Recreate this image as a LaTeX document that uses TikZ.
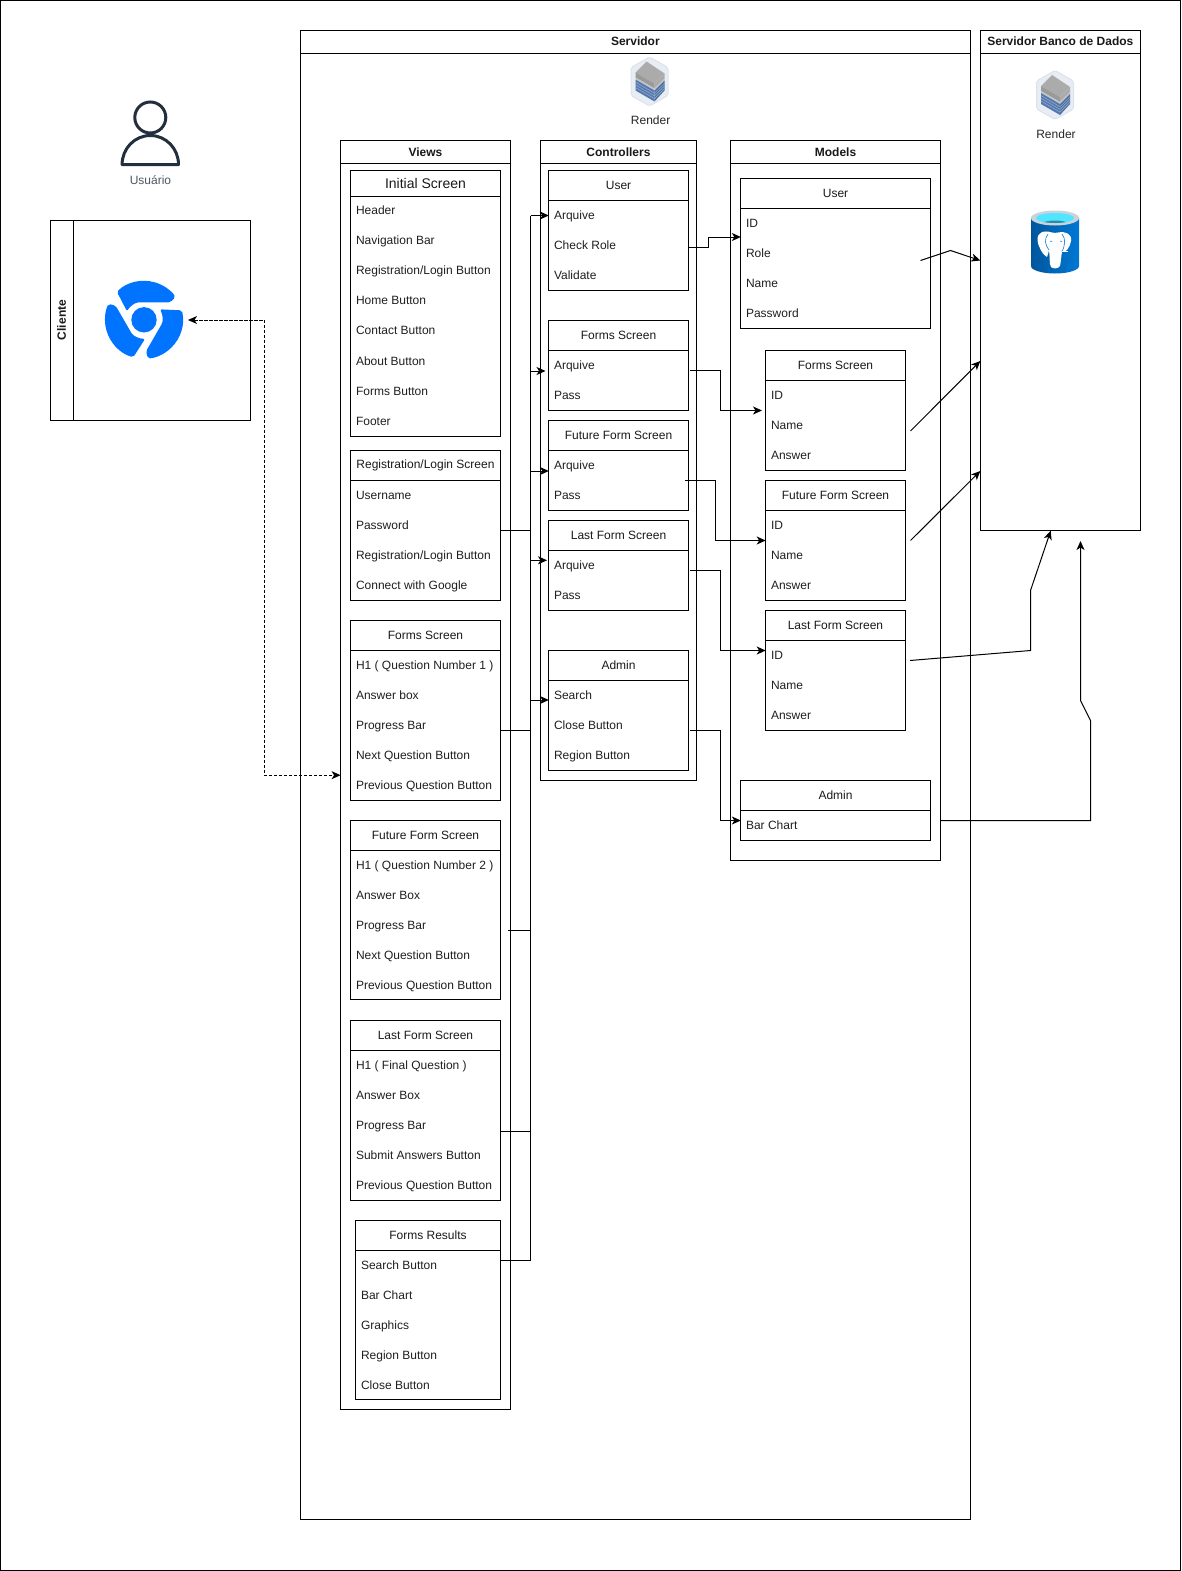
\documentclass[tikz,border=0pt]{standalone}
\usepackage{fontspec}
\setmainfont{Liberation Sans}
\usetikzlibrary{arrows.meta}
\definecolor{chromeblue}{HTML}{0073FF}
\definecolor{awsdark}{HTML}{232F3E}
\definecolor{awsgray}{HTML}{4D5663}
\definecolor{hexfill}{HTML}{E8EDF4}
\definecolor{hexline}{HTML}{DCE2EC}
\definecolor{srvA}{HTML}{5579AE}
\definecolor{srvB}{HTML}{8FA8CC}
\definecolor{srvC}{HTML}{9A9A9A}
\definecolor{srvD}{HTML}{ABABAB}
\definecolor{srvE}{HTML}{C4C4C4}
\definecolor{dbA}{HTML}{00569C}
\definecolor{dbB}{HTML}{0078D4}
\definecolor{dbCyan}{HTML}{50E6FF}
\definecolor{dbDeep}{HTML}{2A8CA8}
\definecolor{dbRim}{HTML}{C9D3DC}
\tikzset{
  x=1pt,y=-1pt,
  every node/.style={inner sep=0pt,outer sep=0pt},
  frameb/.style={draw=black,line width=1pt,anchor=north west},
  rowtxt/.style={anchor=west,font=\fontsize{12}{14}\selectfont,text=black!88,text height=9pt,text depth=3pt},
  wire/.style={draw=black,line width=1pt},
  arr/.style={wire,-{Stealth[length=9pt,width=8pt,inset=2.5pt]}},
  dasharr/.style={wire,dash pattern=on 3.5pt off 1.5pt,{Stealth[length=9pt,width=8pt,inset=2.5pt]}-{Stealth[length=9pt,width=8pt,inset=2.5pt]}}
}
% name, x1, y1, x2, y2, header bottom, title, font
\newcommand{\swimbox}[8]{%
  \node[frameb,minimum width={(#4-#2)*1.0017pt},minimum height={(#5-#3)*1.0019pt}] (#1) at ({#2*1.0017},{#3*1.0019}) {};
  \node[frameb,minimum width={(#4-#2)*1.0017pt},minimum height={(#6-#3)*1.0019pt}] (#1-head) at ({#2*1.0017},{#3*1.0019}) {};
  \node[font=#8,text=black!90,yshift=0.2pt] (#1-title) at (#1-head.center) {#7};
}
% prefix, x, first y, step, items
\newcommand{\rowlist}[5]{%
  \foreach \rowt [count=\rowi] in {#5} {
    \node[rowtxt] (#1-\rowi) at (#2,{(#3+(\rowi-1)*#4)*1.0015+1.5}) {\rowt};
  }
}
\newcommand{\fs}{\fontsize{12}{14}\selectfont}
\newcommand{\fsb}{\fontsize{12}{14}\selectfont\bfseries}
\newcommand{\fsl}{\fontsize{14}{16}\selectfont}
\newcommand{\servericon}[2]{%
  \begin{scope}[shift={(#1,#2)}]
    \draw[hexline,fill=hexfill,line width=1pt,rounded corners=2pt] (0,-24.5) -- (18.5,-14) -- (18.5,14) -- (0,24.5) -- (-18.5,14) -- (-18.5,-14) -- cycle;
    \fill[srvD] (-3,-20) -- (15,-8) -- (5,2) -- (-14,-9) -- cycle;
    \fill[srvC] (-14,-9) -- (5,2) -- (5,7) -- (-14,-4) -- cycle;
    \fill[srvD] (5,2) -- (15,-8) -- (15,-3) -- (5,7) -- cycle;
    \fill[srvE] (-14,-4) -- (5,7) -- (5,9) -- (-14,-2) -- cycle;
    \fill[srvE] (5,7) -- (15,-3) -- (15,-1) -- (5,9) -- cycle;
    \fill[srvA] (-14,-2) -- (5,9) -- (5,20) -- (-14,9) -- cycle;
    \fill[srvA!90!black] (5,9) -- (15,-1) -- (15,9) -- (5,20) -- cycle;
    \foreach \off in {2.7,5.4,8.1} {
      \draw[srvB,line width=.6pt] (-14,{-2+\off}) -- (5,{9+\off}) -- (15,{-1+\off});
    }
  \end{scope}
}
\begin{document}
\begin{tikzpicture}
\useasboundingbox (0,0) rectangle (1181,1571);
\node[frameb,minimum width=1179.5pt,minimum height=1569.5pt] (page) at (0.7,0.7) {};

% ---- client
\node[frameb,minimum width=200pt,minimum height=199.5pt] (client) at (50.5,220.5) {};
\node[rotate=90,font=\fsb,text=black!90] (clienthead) at (61.5,320) {Cliente};
\coordinate (clientT) at (73.5,220.5);
\coordinate (clientB) at (73.5,420);
\draw[wire] (clientT) -- (clientB);

% user icon
\begin{scope}[shift={(150.3,0)}]
  \draw[awsdark,line width=3pt,line join=round,line cap=round] (-28.2,164.5) arc[start angle=180,end angle=0,x radius=28.2pt,y radius=29pt] -- cycle;
  \draw[awsdark,line width=3pt,fill=white] (0,117.5) circle[radius=15.5pt];
\end{scope}
\node[font=\fs,text=awsgray] (usertxt) at (150.5,180.3) {Usuário};

% chrome icon
\begin{scope}[shift={(144,319.8)},y=1pt]
  \fill[chromeblue] (0,0) circle[radius=12.7];
  \foreach \rot in {0,120,240} {
    \fill[chromeblue,rotate=\rot,rounded corners=2pt] (134:39) arc[start angle=134,end angle=36,radius=39]
      -- (26.5,17.5) -- (-3,17.5) .. controls (-9,17.5) and (-14,13.5) .. (-17,8.5) -- cycle;
  }
\end{scope}
\coordinate (chromeport) at (188,320);

% ---- servers
\swimbox{srv}{300}{30.2}{968.6}{1517}{53.2}{Servidor}{\fsb}
\swimbox{db}{978.6}{30.2}{1138.5}{529.5}{53.2}{Servidor Banco de Dados}{\fsb}
\servericon{649.5}{81.5}
\node[font=\fs,text=black!85] (rendera) at (650.6,120.3) {Render};
\servericon{1055}{95}
\node[font=\fs,text=black!85] (renderb) at (1056,134.3) {Render};

% postgres icon
\begin{scope}[shift={(1055,242)}]
  \shade[left color=dbA,right color=dbB] (-24,-24) -- (-24,24) arc[start angle=180,end angle=360,x radius=24pt,y radius=7.5pt] -- (24,-24) -- cycle;
  \fill[dbRim] (0,-24) ellipse[x radius=24pt,y radius=7.5pt];
  \fill[dbCyan] (0,-24) ellipse[x radius=19pt,y radius=5pt];
  \begin{scope}
    \clip (0,-24) ellipse[x radius=19pt,y radius=5pt];
    \fill[dbDeep] (0,-16.5) ellipse[x radius=15pt,y radius=5pt];
  \end{scope}
  \fill[white] (-3,-9.5) .. controls (-11,-12) and (-18,-10) .. (-17.5,-2)
     .. controls (-17,5) and (-12,13) .. (-8,15)
     .. controls (-7,12) and (-6,9) .. (-6,8)
     .. controls (-5,13) and (-6,22) .. (-4,25)
     .. controls (-2,27) and (3,27) .. (5,24)
     .. controls (6,20) and (6,15) .. (7,10)
     .. controls (11,11) and (15,5) .. (16,-1)
     .. controls (17,-8) and (11,-11) .. (3,-9.5)
     .. controls (1,-9) and (-1,-9) .. (-3,-9.5) -- cycle;
  \draw[dbB,line width=.6pt] (-7,-8) .. controls (-11,-3) and (-10,3) .. (-6,8);
  \draw[dbB,line width=.6pt] (7,-8) .. controls (11,-3) and (10,3) .. (7,10);
  \draw[dbB,line width=.6pt] (-5,-1) -- (-3,-.5);
  \draw[dbB,line width=.6pt] (5,-1) -- (7,-.5);
  \draw[white,line width=1pt] (7,9) -- (13,9);
\end{scope}

% ---- Views
\swimbox{views}{340}{140.2}{509.5}{1407}{163.2}{Views}{\fsb}
\swimbox{vInit}{350}{170.2}{499.5}{435.5}{196.2}{\raisebox{-1.2pt}{Initial Screen}}{\fsl}
\rowlist{vInitR}{356}{209.5}{30.1}{Header,Navigation Bar,Registration/Login Button,Home Button,Contact Button,About Button,Forms Button,Footer}
\swimbox{vReg}{350}{449.4}{499.5}{599}{479.4}{Registration/Login Screen}{\fs}
\rowlist{vRegR}{356}{494.5}{30}{Username,Password,Registration/Login Button,Connect with Google}
\swimbox{vForm}{350}{619.1}{499.5}{798.8}{649}{Forms Screen}{\fs}
\rowlist{vFormR}{356}{664}{30}{H1 ( Question Number 1 ),Answer box,Progress Bar,Next Question Button,Previous Question Button}
\swimbox{vFut}{350}{818.7}{499.5}{998}{848.7}{Future Form Screen}{\fs}
\rowlist{vFutR}{356}{863.5}{30}{H1 ( Question Number 2 ),Answer Box,Progress Bar,Next Question Button,Previous Question Button}
\swimbox{vLast}{350}{1018.5}{499.5}{1198}{1048.5}{Last Form Screen}{\fs}
\rowlist{vLastR}{356}{1063.5}{30}{H1 ( Final Question ),Answer Box,Progress Bar,Submit Answers Button,Previous Question Button}
\swimbox{vRes}{355}{1218}{499.5}{1397}{1248}{Forms Results}{\fs}
\rowlist{vResR}{361}{1263}{30}{Search Button,Bar Chart,Graphics,Region Button,Close Button}

% ---- Controllers
\swimbox{ctrl}{539.5}{140.2}{695.3}{778.8}{163.2}{Controllers}{\fsb}
\swimbox{cUser}{547.9}{170.2}{687.1}{289.7}{199.9}{User}{\fs}
\rowlist{cUserR}{554}{214.5}{30}{Arquive,Check Role,Validate}
\swimbox{cForm}{547.9}{319.7}{687.1}{409.5}{349.6}{Forms Screen}{\fs}
\rowlist{cFormR}{554}{364.5}{30}{Arquive,Pass}
\swimbox{cFut}{547.9}{419.5}{687.1}{509.3}{449.5}{Future Form Screen}{\fs}
\rowlist{cFutR}{554}{464.5}{30}{Arquive,Pass}
\swimbox{cLast}{547.9}{519.3}{687.1}{609.1}{549.3}{Last Form Screen}{\fs}
\rowlist{cLastR}{554}{564.5}{30}{Arquive,Pass}
\swimbox{cAdm}{547.9}{649}{687.1}{768.8}{679}{Admin}{\fs}
\rowlist{cAdmR}{554}{694}{30}{Search,Close Button,Region Button}

% ---- Models
\swimbox{mod}{729.5}{140.2}{938.7}{858.7}{163.2}{Models}{\fsb}
\swimbox{mUser}{739.6}{178}{928.7}{327.7}{207.9}{User}{\fs}
\rowlist{mUserR}{746}{222.5}{30}{ID,Role,Name,Password}
\swimbox{mForm}{764.4}{349.5}{903.7}{469.5}{379.5}{Forms Screen}{\fs}
\rowlist{mFormR}{771}{394.5}{30}{ID,Name,Answer}
\swimbox{mFut}{764.4}{479.5}{903.7}{599.5}{509.5}{Future Form Screen}{\fs}
\rowlist{mFutR}{771}{524.5}{30}{ID,Name,Answer}
\swimbox{mLast}{764.4}{609.5}{903.7}{729}{639.5}{Last Form Screen}{\fs}
\rowlist{mLastR}{771}{654}{30}{ID,Name,Answer}
\swimbox{mAdm}{739.6}{779}{928.7}{838.5}{809}{Admin}{\fs}
\rowlist{mAdmR}{746}{823.5}{30}{Bar Chart}

% ---- named routing points
\coordinate (bTop) at (530.5,215.5);
\coordinate (bForm) at (530.5,371);
\coordinate (bFut) at (530.5,471);
\coordinate (bLast) at (530.5,560.3);
\coordinate (bAdm) at (530.5,700);
\coordinate (bBot) at (530.5,1260);
\coordinate (sReg) at (500,530.3);
\coordinate (sForm) at (500,730.3);
\coordinate (sFut) at (508.3,930.3);
\coordinate (sLast) at (500,1131);
\coordinate (sRes) at (500,1260);
\coordinate (tForm) at (545.5,371);
\coordinate (tLast) at (547,560.3);

% views to controllers
\draw[wire] (bTop) -- (bBot) -- (sRes);
\draw[wire] (sReg) -- (sReg -| bTop);
\draw[wire] (sForm) -- (sForm -| bTop);
\draw[wire] (sFut) -- (sFut -| bTop);
\draw[wire] (sLast) -- (sLast -| bTop);
\draw[arr] (bTop) -- (cUser.west |- bTop);
\draw[arr] (bForm) -- (tForm);
\draw[arr] (bFut) -- (cFut.west |- bFut);
\draw[arr] (bLast) -- (tLast);
\draw[arr] (bAdm) -- (cAdm.west |- bAdm);

% controllers to models
\coordinate (uA) at (688,247.5); \coordinate (uB) at (708.5,237);
\draw[arr] (uA) -- (uA -| uB) -- (uB) -- (mUser.west |- uB);
\coordinate (fA) at (690,370.5); \coordinate (fB) at (720.5,410.5); \coordinate (fC) at (762,410.5);
\draw[arr] (fA) -- (fA -| fB) -- (fB) -- (fC);
\coordinate (tA) at (685,480.5); \coordinate (tB) at (715.5,540.5);
\draw[arr] (tA) -- (tA -| tB) -- (tB) -- (mFut.west |- tB);
\coordinate (lA) at (690,570.5); \coordinate (lB) at (720.5,650.5);
\draw[arr] (lA) -- (lA -| lB) -- (lB) -- (mLast.west |- lB);
\coordinate (aA) at (690,730.5); \coordinate (aB) at (720.5,820.5);
\draw[arr] (aA) -- (aA -| aB) -- (aB) -- (mAdm.west |- aB);

% models to database
\coordinate (duA) at (920.5,260.5); \coordinate (duB) at (950.5,250.5); \coordinate (duC) at (980.3,260.5);
\draw[arr] (duA) -- (duB) -- (duC);
\coordinate (dfA) at (910.5,431); \coordinate (dfC) at (980.3,361);
\draw[arr] (dfA) -- (dfC);
\coordinate (dtA) at (910.5,540.5); \coordinate (dtC) at (980.3,471);
\draw[arr] (dtA) -- (dtC);
\coordinate (dlA) at (910,660.5); \coordinate (dlB) at (1030.5,650.5); \coordinate (dlC) at (1030.5,590.5); \coordinate (dlD) at (1050.7,530.7);
\draw[arr] (dlA) -- (dlB) -- (dlC) -- (dlD);
\coordinate (daB) at (1090.5,820.5); \coordinate (daC) at (1090.5,720.5); \coordinate (daD) at (1080.5,700.5); \coordinate (daE) at (1080.5,541);
\draw[arr] (mod.east |- daB) -- (daB) -- (daC) -- (daD) -- (daE);

% client <-> server
\coordinate (dashA) at (264.5,320); \coordinate (dashB) at (264.5,775.2);
\draw[dasharr] (chromeport) -- (dashA) -- (dashB) -- (views.west |- dashB);
\end{tikzpicture}
\end{document}
